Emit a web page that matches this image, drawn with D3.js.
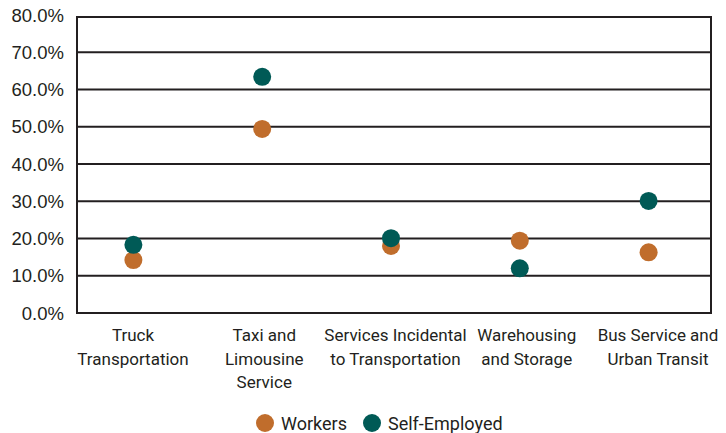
<!DOCTYPE html>
<html>
<head>
<meta charset="utf-8">
<script src="https://cdn.jsdelivr.net/npm/d3@7"></script>
<style>
  body { margin: 0; background: #fff; }
  .tick-label { font-family: "Liberation Sans", Arial, sans-serif; font-size: 18.5px; fill: #231f20; }
  .cat-label { font-family: Roboto, sans-serif; font-size: 17px; fill: #231f20; }
  .legend-text { font-family: Roboto, sans-serif; font-size: 18px; fill: #231f20; }
</style>
</head>
<body>
<svg id="chart" width="726" height="433"></svg>
<script>
var categories = ["Truck Transportation", "Taxi and Limousine Service", "Services Incidental to Transportation", "Warehousing and Storage", "Bus Service and Urban Transit"];
var categoryLines = [["Truck", "Transportation"], ["Taxi and", "Limousine", "Service"], ["Services Incidental", "to Transportation"], ["Warehousing", "and Storage"], ["Bus Service and", "Urban Transit"]];
var workers = [14.2, 49.4, 18.0, 19.4, 16.3];
var selfEmployed = [18.3, 63.4, 20.1, 12.0, 30.1];
var yTicks = [0, 10, 20, 30, 40, 50, 60, 70, 80];
var seriesNames = ["Workers", "Self-Employed"];

var Config = {
  PlotLeft: 77,
  PlotRight: 711,
  PlotTop: 15,
  PlotBottom: 313,
  DotR: 9,
  Orange: "#c06d2c",
  Teal: "#005a56",
  Ink: "#231f20"
};

var svg = d3.select("#chart");

var y = d3.scaleLinear().domain([0, 80]).range([Config.PlotBottom, Config.PlotTop]);
// dots sit on a slightly wider band than the frame, labels on their own spacing
var x = d3.scaleBand().domain(categories).range([69, 713]);
var xLabel = d3.scalePoint().domain(categories).range([133, 658]);

// gridlines
svg.selectAll(".grid")
  .data(yTicks.slice(1, -1))
  .enter().append("line")
  .attr("x1", Config.PlotLeft)
  .attr("x2", Config.PlotRight)
  .attr("y1", function (d) { return y(d); })
  .attr("y2", function (d) { return y(d); })
  .attr("stroke", Config.Ink)
  .attr("stroke-width", 2);

// frame
svg.append("rect")
  .attr("x", Config.PlotLeft)
  .attr("y", y(80) + 2)
  .attr("width", Config.PlotRight - Config.PlotLeft)
  .attr("height", y(0) - y(80) - 2)
  .attr("fill", "none")
  .attr("stroke", Config.Ink)
  .attr("stroke-width", 2);

// y tick labels
svg.selectAll(".tick-label")
  .data(yTicks)
  .enter().append("text")
  .attr("class", "tick-label")
  .attr("x", 64)
  .attr("y", function (d) { return y(d) + 6.5; })
  .attr("text-anchor", "end")
  .text(function (d) { return d.toFixed(1) + "%"; });

// category labels
categories.forEach(function (c, i) {
  var t = svg.append("text")
    .attr("class", "cat-label")
    .attr("text-anchor", "middle")
    .attr("x", xLabel(c))
    .attr("y", 341);
  categoryLines[i].forEach(function (line, j) {
    t.append("tspan")
      .attr("x", xLabel(c))
      .attr("dy", j === 0 ? 0 : 23.5)
      .text(line);
  });
});

// dots: workers first, self-employed drawn on top
svg.selectAll(".dot-workers")
  .data(workers)
  .enter().append("circle")
  .attr("cx", function (d, i) { return x(categories[i]) + x.bandwidth() / 2; })
  .attr("cy", function (d) { return y(d); })
  .attr("r", Config.DotR)
  .attr("fill", Config.Orange);

svg.selectAll(".dot-self")
  .data(selfEmployed)
  .enter().append("circle")
  .attr("cx", function (d, i) { return x(categories[i]) + x.bandwidth() / 2; })
  .attr("cy", function (d) { return y(d); })
  .attr("r", Config.DotR)
  .attr("fill", Config.Teal);

// legend
var legendX = [265, 372];
var legendColors = [Config.Orange, Config.Teal];
seriesNames.forEach(function (name, i) {
  svg.append("circle")
    .attr("cx", legendX[i])
    .attr("cy", 423)
    .attr("r", Config.DotR)
    .attr("fill", legendColors[i]);
  svg.append("text")
    .attr("class", "legend-text")
    .attr("x", legendX[i] + 16)
    .attr("y", 429.5)
    .text(name);
});
</script>
</body>
</html>
